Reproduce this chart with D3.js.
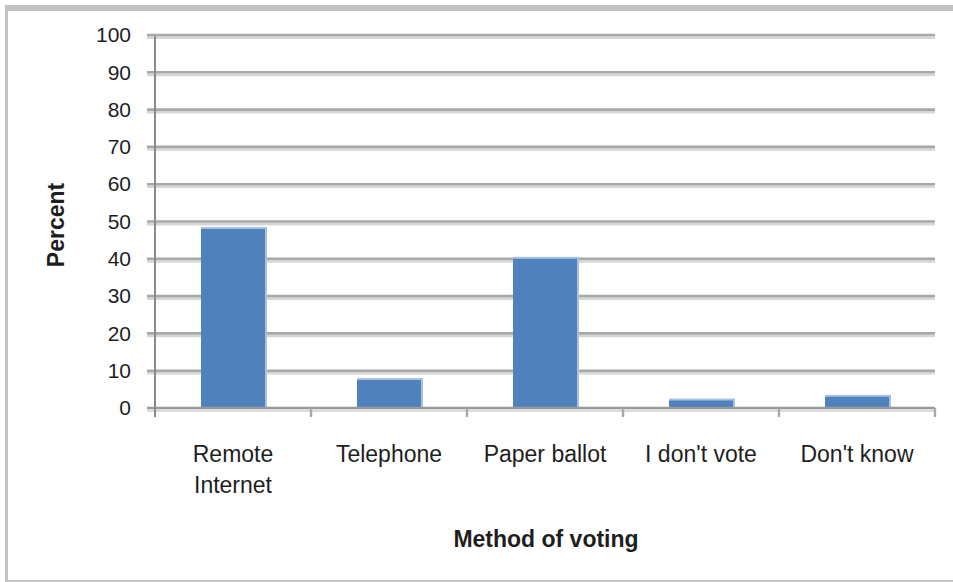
<!DOCTYPE html>
<html>
<head>
<meta charset="utf-8">
<script src="https://cdn.jsdelivr.net/npm/d3@7"></script>
<style>
  html, body { margin: 0; padding: 0; background: #ffffff; }
  svg { display: block; }
  text { font-family: "Liberation Sans", Arial, sans-serif; fill: #1e1e1e; }
</style>
</head>
<body>
<script>
// Survey: preferred method of voting (percent of respondents)
const categories = ["Remote Internet", "Telephone", "Paper ballot", "I don't vote", "Don't know"];
const percentages = [48, 7.5, 40, 2, 3];
const yTickValues = [0, 10, 20, 30, 40, 50, 60, 70, 80, 90, 100];
const yTickLabels = ["0", "10", "20", "30", "40", "50", "60", "70", "80", "90", "100"];
const xTitle = "Method of voting";
const yTitle = "Percent";

const W = 953, H = 582;
const plot = { left: 155, right: 935, top: 35, bottom: 408 };

const svg = d3.select("body").append("svg")
  .attr("width", W).attr("height", H);

// outer frame of the chart area
svg.append("rect").attr("x", 5).attr("y", 5).attr("width", W - 5).attr("height", 6).attr("fill", "#c2c2c2");
svg.append("rect").attr("x", 5).attr("y", 5).attr("width", 3).attr("height", H - 5).attr("fill", "#c4c4c4");
svg.append("rect").attr("x", 5).attr("y", H - 2).attr("width", W - 5).attr("height", 2).attr("fill", "#c4c4c4");

const x = d3.scaleBand().domain(categories).range([plot.left, plot.right]).padding(0);
const y = d3.scaleLinear().domain([0, 100]).range([plot.bottom, plot.top]);

// horizontal gridlines (dark line with a soft shadow underneath)
const grid = svg.append("g");
grid.selectAll("line.shade").data(yTickValues.slice(1)).join("line")
  .attr("class", "shade")
  .attr("x1", plot.left - 8).attr("x2", plot.right)
  .attr("y1", d => y(d) + 2.6).attr("y2", d => y(d) + 2.6)
  .attr("stroke", "#d6d6d6").attr("stroke-width", 2.6);
grid.selectAll("line.main").data(yTickValues.slice(1)).join("line")
  .attr("class", "main")
  .attr("x1", plot.left - 8).attr("x2", plot.right)
  .attr("y1", d => y(d)).attr("y2", d => y(d))
  .attr("stroke", "#a8a8a8").attr("stroke-width", 2.6);

// bars
const barW = x.bandwidth() * 0.41;
const bars = svg.append("g");
bars.selectAll("rect.edge").data(percentages).join("rect")
  .attr("class", "edge")
  .attr("x", (d, i) => x(categories[i]) + (x.bandwidth() - barW) / 2)
  .attr("y", d => y(d) - 2)
  .attr("width", barW + 2)
  .attr("height", d => y(0) - y(d) + 2)
  .attr("fill", "#a9c2e2");
bars.selectAll("rect.bar").data(percentages).join("rect")
  .attr("class", "bar")
  .attr("x", (d, i) => x(categories[i]) + (x.bandwidth() - barW) / 2)
  .attr("y", d => y(d))
  .attr("width", barW)
  .attr("height", d => y(0) - y(d))
  .attr("fill", "#4f81bd");

// x axis baseline
svg.append("line")
  .attr("x1", plot.left - 8).attr("x2", plot.right)
  .attr("y1", y(0)).attr("y2", y(0))
  .attr("stroke", "#9a9a9a").attr("stroke-width", 2.6);
svg.append("line")
  .attr("x1", plot.left - 8).attr("x2", plot.right)
  .attr("y1", y(0) + 2.6).attr("y2", y(0) + 2.6)
  .attr("stroke", "#dcdcdc").attr("stroke-width", 2.6);

// category boundary ticks
svg.append("g").selectAll("line").data(categories).join("line")
  .attr("x1", d => x(d) + x.bandwidth()).attr("x2", d => x(d) + x.bandwidth())
  .attr("y1", y(0)).attr("y2", y(0) + 9)
  .attr("stroke", "#a8a8a8").attr("stroke-width", 2.4);

// y axis
const yAxis = svg.append("g")
  .attr("transform", `translate(${plot.left},0)`)
  .call(d3.axisLeft(y).tickValues(yTickValues)
    .tickFormat((d, i) => yTickLabels[i]).tickSize(0).tickPadding(24));
yAxis.select(".domain").remove();
yAxis.selectAll("text")
  .attr("font-size", 21).attr("fill", "#2a2a2a")
  .attr("font-family", "Liberation Sans, Arial, sans-serif");
svg.append("line")
  .attr("x1", plot.left).attr("x2", plot.left)
  .attr("y1", plot.top + 1).attr("y2", y(0) + 9)
  .attr("stroke", "#8a8a8a").attr("stroke-width", 2);

// category labels, wrapped to the band width
const xAxis = svg.append("g")
  .attr("transform", `translate(0,${y(0)})`)
  .call(d3.axisBottom(x).tickSize(0).tickPadding(0));
xAxis.select(".domain").remove();
xAxis.selectAll("text")
  .attr("font-size", 23).attr("fill", "#2a2a2a")
  .attr("font-family", "Liberation Sans, Arial, sans-serif")
  .attr("dy", null).attr("y", 54)
  .each(function (d) {
    const t = d3.select(this);
    const words = d.split(" ");
    t.text(null);
    const lines = [];
    let line = [];
    const probe = t.append("tspan");
    words.forEach(w => {
      line.push(w);
      probe.text(line.join(" "));
      if (probe.node().getComputedTextLength() > x.bandwidth() - 6 && line.length > 1) {
        line.pop();
        lines.push(line.join(" "));
        line = [w];
      }
    });
    lines.push(line.join(" "));
    probe.remove();
    lines.forEach((l, i) => {
      t.append("tspan").attr("x", 0).attr("y", 54 + i * 31).text(l);
    });
  });

// axis titles
svg.append("text")
  .attr("x", (plot.left + plot.right) / 2 + 1).attr("y", 547)
  .attr("text-anchor", "middle")
  .attr("font-size", 23).attr("font-weight", "bold")
  .text(xTitle);

svg.append("text")
  .attr("transform", "translate(64,225) rotate(-90)")
  .attr("text-anchor", "middle")
  .attr("font-size", 23).attr("font-weight", "bold")
  .text(yTitle);
</script>
</body>
</html>
